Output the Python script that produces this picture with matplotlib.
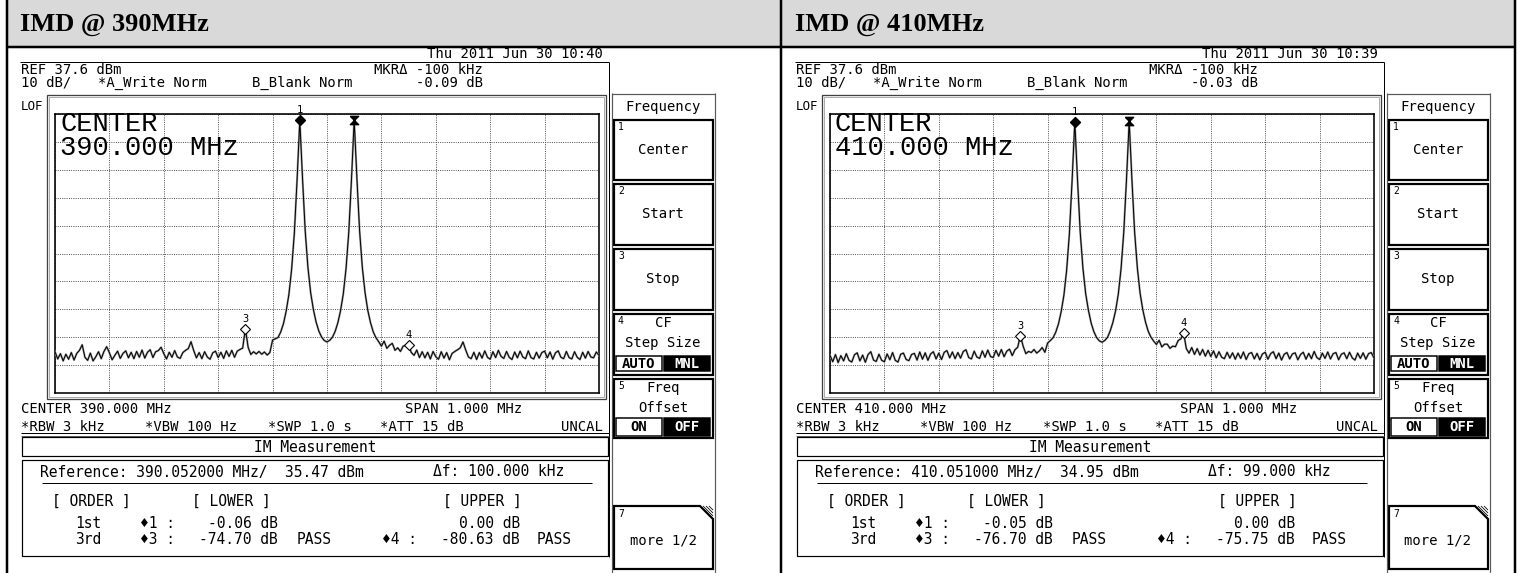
"""
Two IMD spectrum analyser screens (390 MHz / 410 MHz) in a two-column table.
"""
import numpy as np
import matplotlib.pyplot as plt
from matplotlib.patches import Rectangle, Polygon
from matplotlib.path import Path

# =============================================================================
# DATA
# =============================================================================

TITLES = ["IMD @ 390MHz", "IMD @ 410MHz"]
TIMESTAMPS = ["Thu 2011 Jun 30 10:40", "Thu 2011 Jun 30 10:39"]
CENTER_MHZ = [390.0, 410.0]
SPAN_MHZ = 1.0
REF_DBM = 37.6
DB_PER_DIV = 10
MKR_DELTA_DB = ["-0.09", "-0.03"]
REF_FREQ = ["390.052000", "410.051000"]
REF_LEVEL = ["35.47", "34.95"]
DELTA_F_KHZ = ["100.000", "99.000"]
LOWER_1ST = ["-0.06", "-0.05"]
UPPER_1ST = ["0.00", "0.00"]
LOWER_3RD = ["-74.70", "-76.70"]
UPPER_3RD = ["-80.63", "-75.75"]

# trace samples every 5 kHz across the 1 MHz span (dBm)
TRACE_390 = [
    -47.6, -50.2, -48.3, -50.9, -48.5, -50.3, -47.9, -50.6, -48.2, -47.1,
    -45.1, -49.6, -50.7, -48.1, -50.9, -49.4, -47.6, -50.1, -47.5, -45.8,
    -48.0, -50.5, -48.9, -47.4, -50.0, -48.2, -47.3, -49.8, -47.8, -50.1,
    -47.5, -49.6, -47.0, -49.9, -47.8, -46.9, -49.7, -47.6, -47.2, -46.0,
    -48.3, -50.2, -47.8, -49.6, -47.2, -49.5, -50.0, -47.9, -47.1, -46.5,
    -44.0, -47.2, -49.8, -47.9, -50.1, -47.6, -49.5, -50.3, -48.0, -47.4,
    -49.7, -47.8, -50.0, -47.3, -49.3, -47.1, -49.6, -47.4, -46.8, -46.3,
    -39.3, -46.0, -48.6, -47.6, -48.4, -47.5, -48.5, -47.7, -48.8, -47.9,
    -43.4, -43.0, -42.5, -40.5, -37.5, -33.0, -27.0, -18.0, -5.0, 14.0,
    35.41, 14.5, -4.5, -17.5, -26.5, -32.5, -37.0, -40.2, -42.3, -43.6,
    -44.1, -43.5, -42.4, -40.3, -37.2, -32.8, -26.8, -17.8, -4.8, 14.2,
    35.47, 14.5, -4.5, -17.5, -26.5, -32.8, -37.2, -40.5, -42.6, -44.0,
    -45.6, -43.8, -46.4, -45.3, -44.6, -47.1, -46.2, -47.5, -45.6, -45.3,
    -45.2, -47.9, -48.9, -47.0, -49.7, -47.6, -49.8, -47.8, -50.2, -47.5,
    -49.4, -50.3, -47.6, -49.9, -47.9, -50.5, -48.2, -47.5, -46.9, -46.2,
    -44.1, -47.0, -49.5, -50.1, -47.8, -50.4, -47.9, -49.9, -47.3, -49.6,
    -50.3, -47.6, -49.7, -47.1, -49.3, -50.0, -47.5, -49.6, -50.4, -47.7,
    -49.8, -47.4, -49.5, -50.1, -47.3, -49.7, -50.2, -47.8, -49.9, -47.9,
    -47.4, -49.8, -47.7, -50.3, -48.0, -47.3, -49.6, -50.1, -47.5, -49.7,
    -50.2, -47.6, -49.6, -50.4, -47.8, -49.9, -47.5, -49.5, -49.8, -47.7,
    -48.9,
]

TRACE_410 = [
    -48.9, -51.2, -48.6, -51.5, -49.0, -50.9, -48.3, -50.7, -51.3, -48.7,
    -48.0, -50.9, -48.8, -51.4, -48.6, -47.6, -50.6, -51.1, -48.5, -50.7,
    -51.2, -48.4, -50.5, -47.9, -50.7, -51.3, -48.5, -48.1, -50.4, -50.8,
    -48.6, -48.2, -50.6, -47.7, -50.3, -48.0, -50.7, -48.4, -47.6, -50.2,
    -48.1, -50.4, -47.8, -47.2, -49.8, -47.7, -50.1, -47.9, -49.9, -47.5,
    -46.9, -49.7, -50.2, -47.4, -49.5, -50.0, -47.3, -49.6, -47.0, -49.3,
    -49.7, -47.1, -49.2, -46.8, -49.4, -47.4, -46.7, -49.0, -46.9, -46.0,
    -41.8, -45.6, -48.3, -47.5, -47.9, -46.8, -48.1, -47.3, -46.1, -47.8,
    -44.5, -43.6, -42.6, -40.6, -37.6, -33.2, -27.3, -18.4, -5.4, 13.6,
    34.90, 14.0, -4.9, -17.8, -26.8, -32.7, -37.3, -40.4, -42.5, -43.7,
    -44.2, -43.6, -42.5, -40.2, -37.1, -32.9, -26.9, -17.9, -4.8, 14.1,
    34.95, 14.1, -4.8, -17.6, -26.6, -32.6, -37.0, -40.3, -42.4, -43.8,
    -45.0, -43.5, -45.9, -44.9, -44.9, -46.4, -45.6, -45.8, -43.6, -43.0,
    -40.8, -46.5, -48.1, -46.1, -48.6, -46.5, -48.8, -46.8, -49.2, -47.1,
    -49.3, -47.3, -49.8, -47.6, -49.6, -50.1, -47.8, -49.9, -48.0, -50.3,
    -48.1, -50.0, -47.7, -50.4, -48.3, -47.9, -50.2, -48.2, -50.5, -48.4,
    -47.8, -50.3, -48.3, -47.6, -50.1, -48.1, -50.6, -48.5, -47.9, -50.2,
    -48.4, -48.0, -50.5, -48.6, -47.8, -50.3, -48.2, -50.1, -47.5, -49.7,
    -50.4, -48.1, -50.0, -47.7, -50.2, -48.3, -47.9, -50.5, -48.5, -48.0,
    -50.1, -47.8, -49.8, -50.6, -48.1, -50.0, -48.0, -50.3, -48.3, -47.9,
    -49.9,
]

TRACES = [TRACE_390, TRACE_410]

# sample index of markers 1..4 (marker 2 = delta reference)
MARKER_IDX = [90, 110, 70, 130]

KEY_TITLE = "Frequency"
KEY_LABELS = [["Center"], ["Start"], ["Stop"], ["CF", "Step Size"], ["Freq", "Offset"]]

# =============================================================================
# LAYOUT (pixels)
# =============================================================================

W, H = 1521, 573
PANEL_DX = [0, 775]
MONO = ["DejaVu Sans Mono", "DejaVu Sans"]
BIG = ["Liberation Mono", "DejaVu Sans Mono"]


def px(v):
    """pixel width -> points at dpi 100"""
    return v * 0.72


fig = plt.figure(figsize=(W / 100, H / 100), dpi=100)
bg = fig.add_axes([0, 0, 1, 1])
bg.set_xlim(0, W)
bg.set_ylim(H, 0)
bg.axis("off")


def line(xs, ys, lw=1.0, color="black", **kw):
    bg.plot(xs, ys, color=color, lw=px(lw), solid_capstyle="butt", **kw)


def box(x0, y0, x1, y1, lw=1.0, ec="black", fc="none", zorder=2):
    bg.add_patch(Rectangle((x0, y0), x1 - x0, y1 - y0, lw=px(lw), ec=ec, fc=fc, zorder=zorder))


def txt(x, y, s, size=10, ha="left", family=MONO, **kw):
    bg.text(x, y, s, fontsize=size, ha=ha, va="center", family=family, **kw)


# table frame
bg.add_patch(Rectangle((7, 0), 1508, 47, lw=0, fc="#d9d9d9", zorder=0))
line([7, 1515], [47, 47], lw=2.5)
for xv in (7, 781, 1515):
    line([xv, xv], [0, 573], lw=2.5)


def draw_panel(k):
    dx = PANEL_DX[k]
    c = CENTER_MHZ[k]

    txt(20 + dx, 25, TITLES[k], size=19, family="Liberation Serif", weight="bold")

    # screen frame
    line([20 + dx, 609 + dx], [62, 62], lw=1)
    line([609 + dx, 609 + dx], [62, 557], lw=1)

    # header text
    txt(603 + dx, 54, TIMESTAMPS[k], ha="right")
    txt(21 + dx, 70, "REF 37.6 dBm")
    txt(483 + dx, 70, "MKR\u0394 -100 kHz", ha="right")
    txt(21 + dx, 83, "10 dB/")
    txt(98 + dx, 83, "*A_Write Norm")
    txt(252 + dx, 83, "B_Blank Norm")
    txt(483 + dx, 83, f"{MKR_DELTA_DB[k]} dB", ha="right")
    txt(21 + dx, 107, "LOF", size=9)

    # graticule
    box(47 + dx, 95, 606 + dx, 399, lw=1.3, ec="0.25")
    box(49 + dx, 97, 604 + dx, 397, lw=0.8, ec="0.6")
    gx0, gx1, gy0, gy1 = 55 + dx, 599, 114, 393
    ax = fig.add_axes([gx0 / W, 1 - gy1 / H, (gx1 - 55) / W, (gy1 - gy0) / H])
    f0, f1 = c - SPAN_MHZ / 2, c + SPAN_MHZ / 2
    bottom = REF_DBM - 10 * DB_PER_DIV
    ax.set_xlim(f0, f1)
    ax.set_ylim(bottom, REF_DBM)
    ax.set_xticks(np.linspace(f0, f1, 11))
    ax.set_yticks(np.linspace(bottom, REF_DBM, 11))
    ax.tick_params(length=0, labelbottom=False, labelleft=False)
    ax.grid(True, color="0.3", lw=0.7, ls=(0, (1, 1.3)))
    for sp in ax.spines.values():
        sp.set_linewidth(px(1.6))

    trace = np.array(TRACES[k])
    freqs = np.linspace(f0, f1, len(trace))
    ax.plot(freqs, trace, color="0.6", lw=1.5, zorder=3)
    ax.plot(freqs, trace, color="black", lw=0.7, zorder=4)

    i1, i2, i3, i4 = MARKER_IDX
    ax.plot(freqs[i1], trace[i1], marker="D", ms=5, color="black", zorder=6)
    hourglass = Path([(-1, 1), (1, 1), (-1, -1), (1, -1), (-1, 1)])
    ax.plot(freqs[i2], trace[i2], marker=hourglass, ms=6, color="black", zorder=6)
    for i in (i3, i4):
        ax.plot(freqs[i], trace[i], marker="D", ms=5, mfc="white", mec="black", mew=0.8, zorder=6)
    for lab, i in (("1", i1), ("3", i3), ("4", i4)):
        ax.annotate(lab, (freqs[i], trace[i]), xytext=(0, 3.5), textcoords="offset points",
                    ha="center", va="bottom", fontsize=7.5, family=MONO, zorder=7)

    ax.text(60 + dx, 124, "CENTER", transform=bg.transData, fontsize=19.5,
            family=BIG, va="center", zorder=8)
    ax.text(60 + dx, 148, f"{c:.3f} MHz", transform=bg.transData, fontsize=19.5,
            family=BIG, va="center", zorder=8)

    # settings below graticule
    txt(21 + dx, 409, f"CENTER {c:.3f} MHz")
    txt(405 + dx, 409, f"SPAN {SPAN_MHZ:.3f} MHz")
    txt(21 + dx, 427, "*RBW 3 kHz")
    txt(145 + dx, 427, "*VBW 100 Hz")
    txt(268 + dx, 427, "*SWP 1.0 s")
    txt(380 + dx, 427, "*ATT 15 dB")
    txt(603 + dx, 427, "UNCAL", ha="right")
    line([21 + dx, 609 + dx], [433, 433], lw=1)
    line([21 + dx, 609 + dx], [436, 436], lw=1, color="0.4")

    # IM measurement boxes
    box(22 + dx, 437, 608 + dx, 456, lw=1.2)
    txt(315 + dx, 447, "IM Measurement", ha="center", size=10.5)
    box(22 + dx, 460, 608 + dx, 556, lw=1.2)
    txt(40 + dx, 472, f"Reference: {REF_FREQ[k]} MHz/  {REF_LEVEL[k]} dBm", size=10.5)
    txt(433 + dx, 472, f"\u0394f: {DELTA_F_KHZ[k]} kHz", size=10.5)
    line([42 + dx, 592 + dx], [483, 483], lw=1)
    txt(52 + dx, 501, "[ ORDER ]", size=10.5)
    txt(192 + dx, 501, "[ LOWER ]", size=10.5)
    txt(443 + dx, 501, "[ UPPER ]", size=10.5)
    txt(75 + dx, 523, "1st", size=10.5)
    txt(140 + dx, 523, "\u26661 :", size=10.5)
    txt(278 + dx, 523, f"{LOWER_1ST[k]} dB", ha="right", size=10.5)
    txt(520 + dx, 523, f"{UPPER_1ST[k]} dB", ha="right", size=10.5)
    txt(75 + dx, 540, "3rd", size=10.5)
    txt(140 + dx, 540, "\u26663 :", size=10.5)
    txt(278 + dx, 540, f"{LOWER_3RD[k]} dB", ha="right", size=10.5)
    txt(297 + dx, 540, "PASS", size=10.5)
    txt(382 + dx, 540, "\u26664 :", size=10.5)
    txt(520 + dx, 540, f"{UPPER_3RD[k]} dB", ha="right", size=10.5)
    txt(537 + dx, 540, "PASS", size=10.5)

    # soft-key column
    line([612 + dx, 612 + dx], [93, 573], lw=1.2, color="0.35")
    line([715 + dx, 715 + dx], [93, 573], lw=1.2, color="0.35")
    line([612 + dx, 715 + dx], [94, 94], lw=1.2, color="0.35")
    txt(663 + dx, 107, KEY_TITLE, ha="center")
    keys_y = [(120, 180), (184, 245), (249, 310), (314, 375), (379, 438)]
    for n, ((y0, y1), labels) in enumerate(zip(keys_y, KEY_LABELS), start=1):
        box(614 + dx, y0, 713 + dx, y1, lw=2.2)
        txt(618 + dx, y0 + 7, str(n), size=7)
        if len(labels) == 1:
            txt(663 + dx, (y0 + y1) / 2, labels[0], ha="center")
        else:
            txt(663 + dx, y0 + 9, labels[0], ha="center")
            txt(663 + dx, y0 + 29, labels[1], ha="center")
            on, off = ("AUTO", "MNL") if n == 4 else ("ON", "OFF")
            by0, by1 = (356, 371) if n == 4 else (418, 436)
            box(616 + dx, by0, 662 + dx, by1, lw=1.5, fc="white")
            box(664 + dx, by0, 710 + dx, by1, lw=1.5, fc="black")
            txt(639 + dx, (by0 + by1) / 2, on, ha="center", weight="bold")
            txt(687 + dx, (by0 + by1) / 2, off, ha="center", color="white", weight="bold")

    # key 7 with folded corner
    bg.add_patch(Polygon([(614 + dx, 506), (700 + dx, 506), (713 + dx, 519),
                          (713 + dx, 569), (614 + dx, 569)], closed=True,
                         fc="none", ec="black", lw=px(2.2)))
    for d in (3, 6, 9):
        line([700 + d + dx, 713 + dx], [506, 519 - d], lw=0.8)
    txt(618 + dx, 514, "7", size=7)
    txt(663 + dx, 541, "more 1/2", ha="center")


for k in range(2):
    draw_panel(k)

fig.savefig("out.png", dpi=100)
